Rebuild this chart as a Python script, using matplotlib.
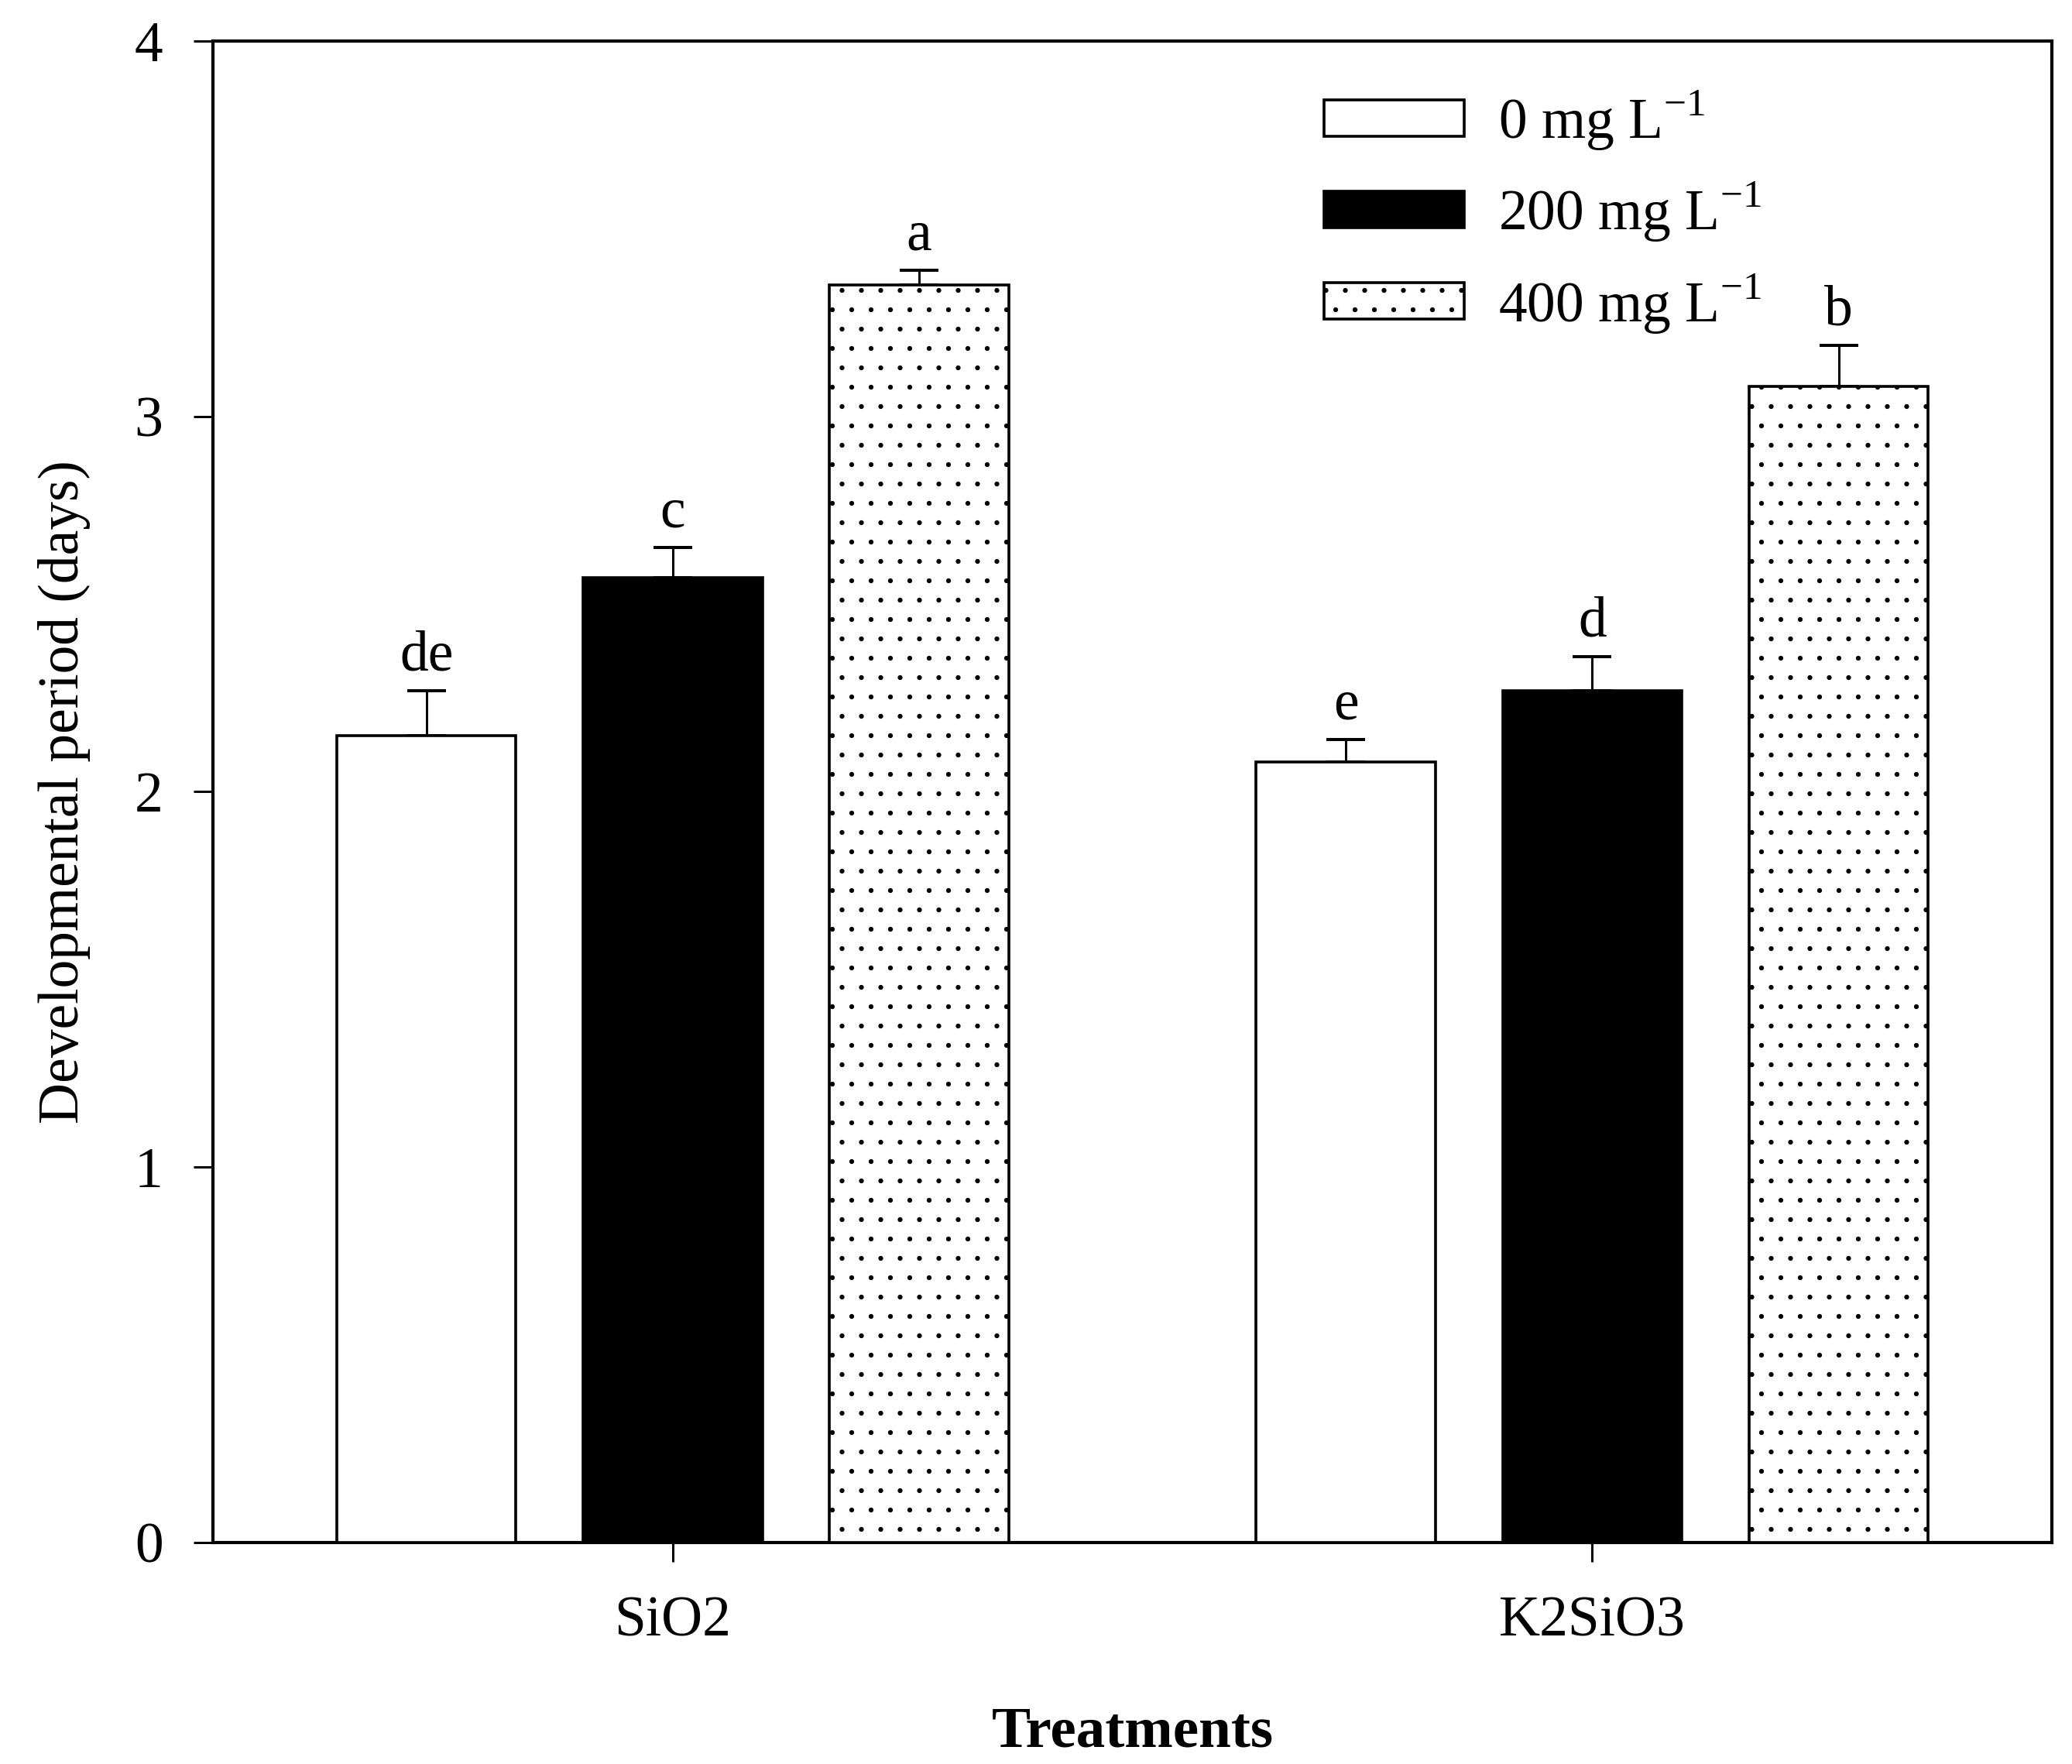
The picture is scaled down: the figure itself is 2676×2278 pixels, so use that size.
import numpy as np
import matplotlib
matplotlib.use("Agg")
import matplotlib.pyplot as plt

plt.rcParams['font.family'] = ['Liberation Serif', 'DejaVu Serif']
plt.rcParams['mathtext.fontset'] = 'custom'
plt.rcParams['mathtext.rm'] = 'Liberation Serif'
plt.rcParams['hatch.linewidth'] = 0.6

# data
treatments = ['SiO2', 'K2SiO3']
doses = ['0 mg L$^{-1}$', '200 mg L$^{-1}$', '400 mg L$^{-1}$']
period_0 = [2.15, 2.08]
period_200 = [2.57, 2.27]
period_400 = [3.35, 3.08]
se_0 = [0.12, 0.06]
se_200 = [0.08, 0.09]
se_400 = [0.04, 0.11]
letters_0 = ['de', 'e']
letters_200 = ['c', 'd']
letters_400 = ['a', 'b']

means = [period_0, period_200, period_400]
errs = [se_0, se_200, se_400]
letters = [letters_0, letters_200, letters_400]
faces = ['white', 'black', 'white']
hatches = [None, None, '.']

# dpi 150 so the '.' hatch gets the sparse dot spacing of the original
fig = plt.figure(figsize=(17.84, 15.1867), dpi=150)
ax = fig.add_axes([0.1028, 0.1256, 0.8875, 0.8511])

fs = 35.3
x = np.arange(len(treatments))
width = 0.195
step = 0.268
for i in range(3):
    pos = x + (i - 1) * step
    ax.bar(pos, means[i], width, color=faces[i], edgecolor='black',
           linewidth=1.75, hatch=hatches[i], label=doses[i], zorder=3)
    ax.errorbar(pos, means[i], yerr=[np.zeros(len(x)), errs[i]], fmt='none',
                ecolor='black', elinewidth=1.45, capsize=12, capthick=1.9,
                zorder=2)
    for p, m, e, t in zip(pos, means[i], errs[i], letters[i]):
        ax.annotate(t, xy=(p, m + e), xytext=(0, 12.7), textcoords='offset points',
                    ha='center', va='baseline', fontsize=fs)

ax.set_xlim(-0.5, 1.5)
ax.set_ylim(0, 4)
ax.set_yticks([0, 1, 2, 3, 4])
ax.set_xticks(x)
ax.set_xticklabels(treatments)
ax.tick_params(axis='both', direction='out', length=12, width=1.45,
               labelsize=fs, top=False, right=False)
ax.tick_params(axis='x', pad=21)
ax.tick_params(axis='y', pad=19)
for s in ax.spines.values():
    s.set_linewidth(2)

ax.set_ylabel('Developmental period (days)', fontsize=fs, labelpad=27)
ax.set_xlabel('Treatments', fontsize=36, fontweight='bold', labelpad=36)

ax.legend(loc='upper left', bbox_to_anchor=(0.604, 0.969), frameon=False,
          fontsize=fs, handlelength=2.47, handleheight=0.61,
          handletextpad=0.6, labelspacing=0.48, borderpad=0, borderaxespad=0)

fig.savefig('out.png', dpi=150)
